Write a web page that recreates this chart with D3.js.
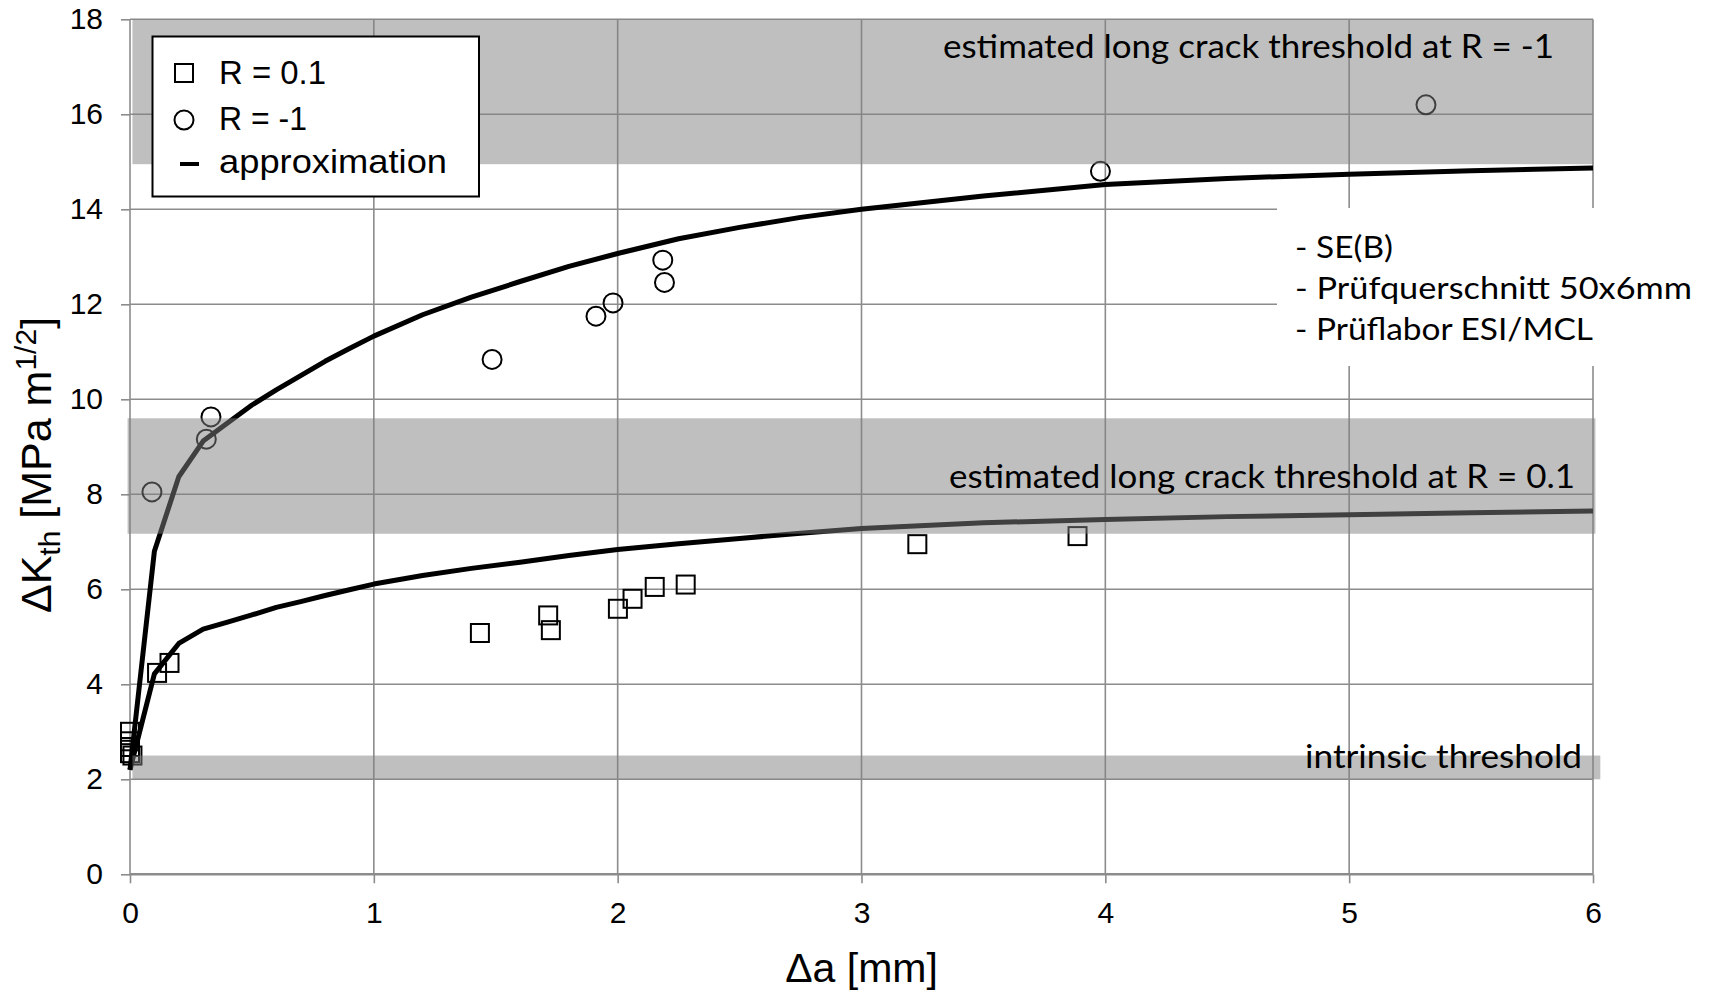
<!DOCTYPE html>
<html>
<head>
<meta charset="utf-8">
<script src="https://cdn.jsdelivr.net/npm/d3@7"></script>
<style>
  body { margin: 0; background: #fff; }
  svg { display: block; }
</style>
</head>
<body>
<svg id="chart" width="1712" height="990"></svg>
<script>
// ---- axis ticks ----
const xTicks = [0, 1, 2, 3, 4, 5, 6];
const yTicks = [0, 2, 4, 6, 8, 10, 12, 14, 16, 18];

// ---- measured thresholds, R = 0.1 (crack extension [mm], ΔKth [MPa m^1/2]) ----
const r01Da = [0, 0, 0, 0, 0.01, 0.111, 0.162, 1.435, 1.715, 1.726, 2.001, 2.061, 2.152, 2.279, 3.229, 3.886];
const r01Dk = [3.0, 2.8, 2.68, 2.55, 2.5, 4.24, 4.45, 5.08, 5.45, 5.14, 5.59, 5.80, 6.05, 6.10, 6.95, 7.12];

// ---- measured thresholds, R = -1 ----
const rm1Da = [0.090, 0.313, 0.332, 1.485, 1.911, 1.981, 2.185, 2.192, 3.98, 5.315];
const rm1Dk = [8.05, 9.16, 9.63, 10.84, 11.75, 12.03, 12.93, 12.46, 14.80, 16.2];

// ---- approximation curves (R-curves) ----
const approxDa  = [0, 0.1, 0.2, 0.3, 0.4, 0.5, 0.6, 0.7, 0.8, 0.9, 1.0, 1.2, 1.4, 1.6, 1.8, 2.0, 2.25, 2.5, 2.75, 3.0, 3.5, 4.0, 4.5, 5.0, 5.5, 6.0];
const approxRm1 = [2.2, 6.8, 8.37, 9.12, 9.5, 9.88, 10.2, 10.5, 10.8, 11.07, 11.33, 11.78, 12.15, 12.48, 12.8, 13.07, 13.38, 13.62, 13.83, 14.0, 14.28, 14.52, 14.65, 14.74, 14.81, 14.87];
const approxR01 = [2.2, 4.22, 4.86, 5.16, 5.31, 5.46, 5.62, 5.74, 5.87, 5.99, 6.11, 6.29, 6.44, 6.57, 6.71, 6.84, 6.96, 7.07, 7.18, 7.28, 7.40, 7.47, 7.53, 7.57, 7.61, 7.65];

// ---- threshold bands ----
const bandLabels = ["estimated long crack threshold at R = -1", "estimated long crack threshold at R = 0.1", "intrinsic threshold"];
const bandLow  = [14.95, 7.17, 2.0];
const bandHigh = [18, 9.6, 2.5];
const bandFrom = [0.01, -0.01, 0.01];
const bandTo   = [6.0, 6.01, 6.03];

// ---- notes and legend ----
const notes = ["- SE(B)", "- Prüfquerschnitt 50x6mm", "- Prüflabor ESI/MCL"];
const legendLabels = ["R = 0.1", "R = -1", "approximation"];

const svg = d3.select("#chart");
const W = 1712, H = 990;
const margin = { left: 130, right: 119, top: 19.3, bottom: 115.7 };

svg.append("rect").attr("width", W).attr("height", H).attr("fill", "#fff");

const x = d3.scaleLinear().domain([0, 6]).range([margin.left, W - margin.right]);
const y = d3.scaleLinear().domain([0, 18]).range([H - margin.bottom, margin.top]);

const gridColor = "#8c8c8c";
const axisFont = "'Liberation Sans', Arial, sans-serif";
const textFont = "Lato, 'Open Sans', sans-serif";

// grid
const grid = svg.append("g");
grid.selectAll("line.v").data(xTicks).join("line")
  .attr("x1", d => x(d)).attr("x2", d => x(d))
  .attr("y1", y(0)).attr("y2", y(18))
  .attr("stroke", gridColor).attr("stroke-width", 1.6);
grid.selectAll("line.h").data(yTicks).join("line")
  .attr("x1", x(0)).attr("x2", x(6))
  .attr("y1", d => y(d)).attr("y2", d => y(d))
  .attr("stroke", gridColor).attr("stroke-width", d => d === 0 ? 2.6 : 1.6);

// axes
const yAxis = svg.append("g").attr("transform", `translate(${x(0)},0)`)
  .call(d3.axisLeft(y).tickValues(yTicks).tickSize(9).tickPadding(18).tickFormat(d3.format("d")));
const xAxis = svg.append("g").attr("transform", `translate(0,${y(0)})`)
  .call(d3.axisBottom(x).tickValues(xTicks).tickSize(9).tickPadding(18).tickFormat(d3.format("d")));
[xAxis, yAxis].forEach(a => {
  a.select(".domain").remove();
  a.selectAll(".tick line").attr("stroke", gridColor).attr("stroke-width", 1.6);
  a.selectAll(".tick text").attr("fill", "#000").style("font-family", axisFont).style("font-size", "30px");
});

// approximation curves
const line = d3.line().x(d => x(d[0])).y(d => y(d[1]));
[approxRm1, approxR01].forEach(vals => {
  svg.append("path")
    .datum(approxDa.map((a, i) => [a, vals[i]]))
    .attr("d", line)
    .attr("fill", "none").attr("stroke", "#000").attr("stroke-width", 5)
    .attr("stroke-linejoin", "round").attr("stroke-linecap", "butt");
});

// markers
const sq = 18;
svg.append("g").selectAll("rect").data(r01Da.map((a, i) => [a, r01Dk[i]])).join("rect")
  .attr("x", d => x(d[0]) - sq / 2).attr("y", d => y(d[1]) - sq / 2)
  .attr("width", sq).attr("height", sq)
  .attr("fill", "none").attr("stroke", "#000").attr("stroke-width", 2);
svg.append("g").selectAll("circle").data(rm1Da.map((a, i) => [a, rm1Dk[i]])).join("circle")
  .attr("cx", d => x(d[0])).attr("cy", d => y(d[1])).attr("r", 9.5)
  .attr("fill", "none").attr("stroke", "#000").attr("stroke-width", 2);

// translucent threshold bands
svg.append("g").selectAll("rect").data(bandLow.map((lo, i) => i)).join("rect")
  .attr("x", i => x(bandFrom[i])).attr("width", i => x(bandTo[i]) - x(bandFrom[i]))
  .attr("y", i => y(bandHigh[i])).attr("height", i => y(bandLow[i]) - y(bandHigh[i]))
  .attr("fill", "rgba(128,128,128,0.5)");

// band labels
const bandLabelPos = [
  { dx: -39, baseline: 58, len: 611 },
  { dx: -18, baseline: 487.5, len: 626 },
  { dx: -11, baseline: 768, len: 277 }
];
svg.append("g").selectAll("text").data(bandLabels).join("text")
  .attr("x", (d, i) => x(6) + bandLabelPos[i].dx)
  .attr("y", (d, i) => bandLabelPos[i].baseline)
  .attr("text-anchor", "end")
  .attr("textLength", (d, i) => bandLabelPos[i].len)
  .attr("lengthAdjust", "spacingAndGlyphs")
  .style("font-family", textFont).style("font-size", "32px").attr("fill", "#000")
  .text(d => d);

// notes box
const notesG = svg.append("g");
notesG.append("rect").attr("x", 1277).attr("y", 208).attr("width", W - 1277).attr("height", 158).attr("fill", "#fff");
const noteLens = [98, 397, 298];
notesG.selectAll("text").data(notes).join("text")
  .attr("x", 1295).attr("y", (d, i) => 258 + i * 41)
  .attr("textLength", (d, i) => noteLens[i])
  .attr("lengthAdjust", "spacingAndGlyphs")
  .style("font-family", textFont).style("font-size", "30px").attr("fill", "#000")
  .text(d => d);

// legend
const lg = svg.append("g");
lg.append("rect").attr("x", 152.5).attr("y", 36.5).attr("width", 326.5).attr("height", 160)
  .attr("fill", "#fff").attr("stroke", "#000").attr("stroke-width", 2);
lg.append("rect").attr("x", 175).attr("y", 64).attr("width", 18).attr("height", 18)
  .attr("fill", "none").attr("stroke", "#000").attr("stroke-width", 2);
lg.append("circle").attr("cx", 184).attr("cy", 120).attr("r", 9.5)
  .attr("fill", "none").attr("stroke", "#000").attr("stroke-width", 2);
lg.append("line").attr("x1", 180).attr("x2", 199).attr("y1", 164).attr("y2", 164)
  .attr("stroke", "#000").attr("stroke-width", 4);
const legendLens = [107, 88, 228];
lg.selectAll("text").data(legendLabels).join("text")
  .attr("x", 219).attr("y", (d, i) => [83.5, 129.5, 173][i])
  .attr("textLength", (d, i) => legendLens[i])
  .attr("lengthAdjust", "spacingAndGlyphs")
  .style("font-family", axisFont).style("font-size", "33px").attr("fill", "#000")
  .text(d => d);

// axis titles
svg.append("text")
  .attr("x", (x(0) + x(6)) / 2).attr("y", 982)
  .attr("text-anchor", "middle")
  .style("font-family", axisFont).style("font-size", "41px").attr("fill", "#000")
  .text("Δa [mm]");

const yt = svg.append("text")
  .attr("transform", `translate(51,465) rotate(-90)`)
  .attr("text-anchor", "middle")
  .style("font-family", axisFont).style("font-size", "43px").attr("fill", "#000");
yt.append("tspan").text("ΔK");
yt.append("tspan").attr("dy", 9).style("font-size", "30px").text("th");
yt.append("tspan").attr("dy", -9).text(" [MPa m");
yt.append("tspan").attr("dy", -15).style("font-size", "30px").text("1/2");
yt.append("tspan").attr("dy", 15).text("]");
</script>
</body>
</html>
